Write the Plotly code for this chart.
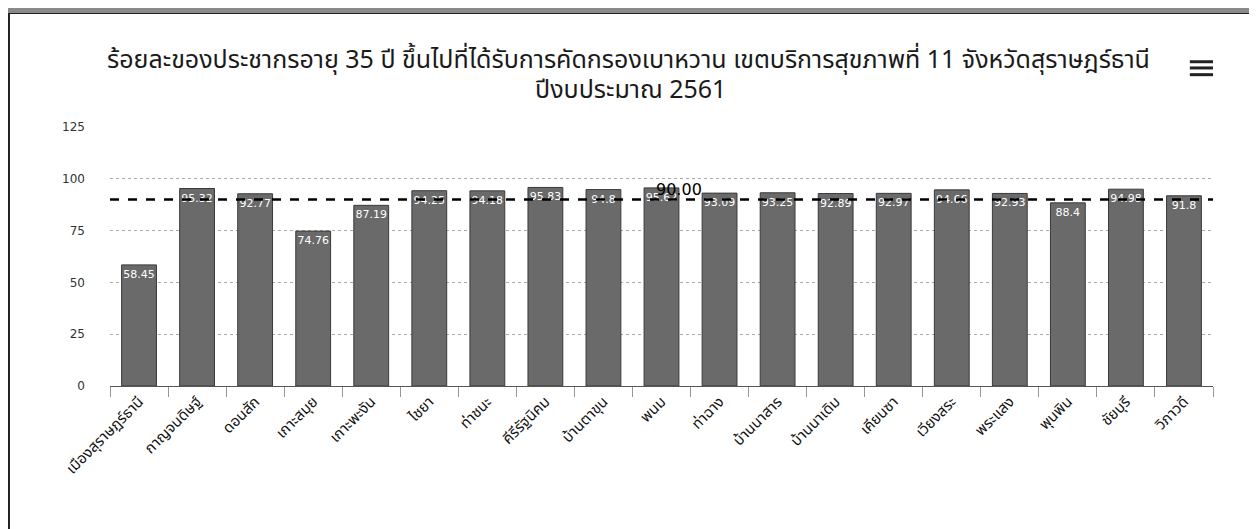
import plotly.graph_objects as go

# ---- data ----
TITLE_LINE1 = "ร้อยละของประชากรอายุ 35 ปี ขึ้นไปที่ได้รับการคัดกรองเบาหวาน เขตบริการสุขภาพที่ 11 จังหวัดสุราษฎร์ธานี"
TITLE_LINE2 = "ปีงบประมาณ 2561"
districts = [
    "เมืองสุราษฎร์ธานี", "กาญจนดิษฐ์", "ดอนสัก", "เกาะสมุย", "เกาะพะงัน",
    "ไชยา", "ท่าชนะ", "คีรีรัฐนิคม", "บ้านตาขุน", "พนม",
    "ท่าฉาง", "บ้านนาสาร", "บ้านนาเดิม", "เคียนซา", "เวียงสระ",
    "พระแสง", "พุนพิน", "ชัยบุรี", "วิภาวดี",
]
percent = [
    58.45, 95.32, 92.77, 74.76, 87.19,
    94.25, 94.18, 95.83, 94.8, 95.62,
    93.09, 93.25, 92.89, 92.97, 94.66,
    92.93, 88.4, 94.98, 91.8,
]
TARGET = 90
TARGET_LABEL = "90.00"
TARGET_LABEL_AT = "พนม"
y_ticks = [0, 25, 50, 75, 100, 125]

FONT = "Tahoma, 'Noto Sans Thai', 'Noto Sans', 'DejaVu Sans', sans-serif"

fig = go.Figure()
fig.add_trace(go.Bar(
    x=districts,
    y=percent,
    width=0.6,
    marker=dict(color="#6a6a6a", line=dict(color="#3a3a3a", width=1)),
    text=[f"{v:g}" for v in percent],
    textposition="inside",
    insidetextanchor="end",
    textangle=0,
    constraintext="none",
    textfont=dict(family="Verdana, 'DejaVu Sans', sans-serif", size=11, color="white"),
    hoverinfo="x+y",
    showlegend=False,
))

# target line
fig.add_shape(type="line", xref="paper", yref="y", x0=0, x1=1, y0=TARGET, y1=TARGET,
              line=dict(color="black", width=2.5, dash="dash"), layer="above")
fig.add_annotation(x=TARGET_LABEL_AT, y=TARGET, xref="x", yref="y",
                   text=TARGET_LABEL, showarrow=False, xanchor="left", yanchor="bottom",
                   xshift=-8, yshift=-1,
                   font=dict(family="'DejaVu Sans', Verdana, sans-serif", size=16, color="black"))

# title (two lines)
fig.add_annotation(x=0.47, y=1.258, xref="paper", yref="paper", text=TITLE_LINE1,
                   showarrow=False, xanchor="center", yanchor="middle",
                   font=dict(family=FONT, size=25, color="#1a1a1a"))
fig.add_annotation(x=0.472, y=1.142, xref="paper", yref="paper", text=TITLE_LINE2,
                   showarrow=False, xanchor="center", yanchor="middle",
                   font=dict(family=FONT, size=25, color="#1a1a1a"))

# hamburger menu icon
for yy in (1.252, 1.228, 1.202):
    fig.add_shape(type="line", xref="paper", yref="paper", x0=0.979, x1=1.0, y0=yy, y1=yy,
                  line=dict(color="#222", width=3))

# scanned page frame
fig.add_shape(type="rect", xref="paper", yref="paper", x0=-0.0916, x1=1.035, y0=-0.6, y1=1.44,
              line=dict(color="#222", width=2), fillcolor="rgba(0,0,0,0)")
fig.add_shape(type="rect", xref="paper", yref="paper", x0=-0.1, x1=1.04, y0=1.44, y1=1.5,
              line=dict(width=0), fillcolor="#8a8a8a")

fig.update_layout(
    width=1249, height=521,
    margin=dict(l=102, r=44, t=119, b=143),
    paper_bgcolor="white", plot_bgcolor="white",
    font=dict(family=FONT, color="#222"),
    bargap=0.4,
    xaxis=dict(
        type="category",
        tickangle=-45,
        tickfont=dict(family=FONT, size=15, color="#111"),
        ticks="outside", tickson="boundaries", ticklen=10, tickcolor="#999",
        showline=True, linecolor="#555", linewidth=1,
        showgrid=False,
    ),
    yaxis=dict(
        range=[0, 125],
        tickvals=y_ticks,
        tickfont=dict(family="Verdana, 'DejaVu Sans', sans-serif", size=12, color="#333"),
        ticklabelstandoff=24,
        showgrid=True, gridcolor="#aaaaaa", griddash="dot", gridwidth=1,
        zeroline=False,
        showline=False,
    ),
)

fig.write_html("out.html")
